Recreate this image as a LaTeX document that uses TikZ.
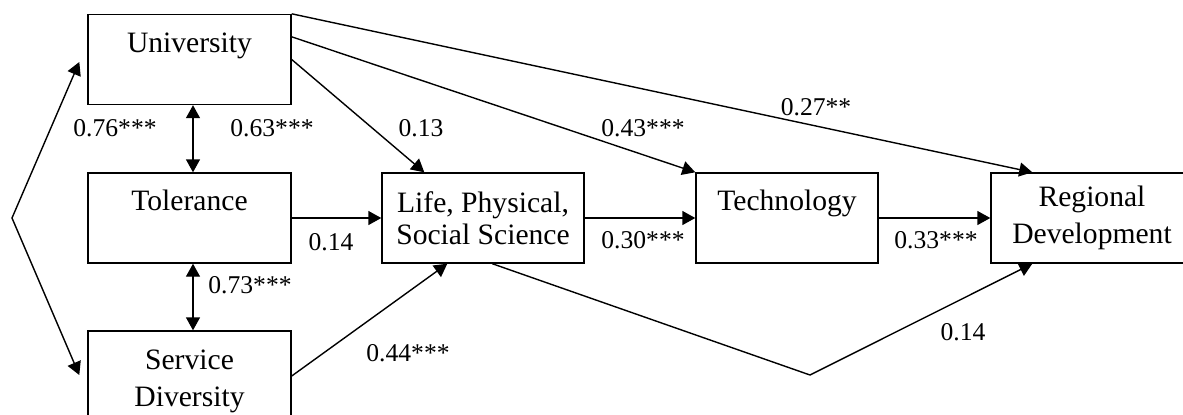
\documentclass[tikz,border=0pt]{standalone}
\usepackage{fontspec}
\setmainfont{Liberation Serif}
\usetikzlibrary{arrows.meta,calc}
\begin{document}
\begin{tikzpicture}[x=0.5pt,y=-0.5pt,
  box/.style={draw, line width=0.7pt, minimum height=45pt, align=center, inner sep=0pt,
    font=\fontsize{14.8}{17}\selectfont},
  lbl/.style={inner sep=0pt, font=\fontsize{12.8}{14}\selectfont},
  conn/.style={line width=0.7pt, -{Triangle[length=6.5pt,width=7pt]}},
  dconn/.style={line width=0.7pt, {Triangle[length=6.5pt,width=7pt]}-{Triangle[length=6.5pt,width=7pt]}}
]
\useasboundingbox (0,0) rectangle (1183,414);
\clip (0,0) rectangle (1183,414);

% boxes
\node[box, minimum width=101.5pt] (uni) at (189.5,59.5) {\strut University\\[-3pt]\strut};
\node[box, minimum width=101.5pt] (tol) at (189.5,218) {\strut Tolerance\\[-3pt]\strut};
\node[box, minimum width=101.5pt] (svc) at (189.5,376) {\strut\\[-14pt]Service\\[1.5pt]Diversity};
\node[box, minimum width=101pt] (life) at (483,218) {Life, Physical,\\[-1pt]Social Science};
\node[box, minimum width=91pt] (tech) at (787,218) {\strut Technology\\[-3pt]\strut};
\node[box, minimum width=101pt] (reg) at (1092,218) {Regional\\[1.5pt]Development};

% coordinates
\coordinate (fork) at (12,218);
\coordinate (bend) at (810,375);

% connectors
\draw[dconn] ($(uni.west)+(-8,2.5)$) -- (fork) -- ($(svc.west)+(-8,-1)$);
\draw[dconn] ($(uni.south)+(3.5,0)$) -- ($(tol.north)+(3.5,0)$);
\draw[dconn] ($(tol.south)+(3.5,0)$) -- ($(svc.north)+(3.5,0)$);
\draw[conn] (uni.north east) -- ($(reg.north west)+(42,0)$);
\draw[conn] ($(uni.north east)+(0,23)$) -- (tech.north west);
\draw[conn] (uni.east) -- ($(life.north west)+(43,0)$);
\draw[conn] (tol.east) -- (life.west);
\draw[conn] (svc.east) -- ($(life.south west)+(66,0)$);
\draw[conn] (life.east) -- (tech.west);
\draw[conn] (tech.east) -- (reg.west);
\draw[conn] ($(life.south west)+(111,0)$) -- (bend) -- ($(reg.south west)+(42,0)$);

% labels
\node[lbl] (l1) at (115,128) {0.76***};
\node[lbl] (l2) at (272,128) {0.63***};
\node[lbl] (l3) at (250,285) {0.73***};
\node[lbl] (l4) at (331,242) {0.14};
\node[lbl] (l5) at (421,128) {0.13};
\node[lbl] (l6) at (643,128) {0.43***};
\node[lbl] (l7) at (816,107) {0.27**};
\node[lbl] (l8) at (643,240) {0.30***};
\node[lbl] (l9) at (936,240) {0.33***};
\node[lbl] (l10) at (408,353) {0.44***};
\node[lbl] (l11) at (963,332) {0.14};
\end{tikzpicture}
\end{document}
